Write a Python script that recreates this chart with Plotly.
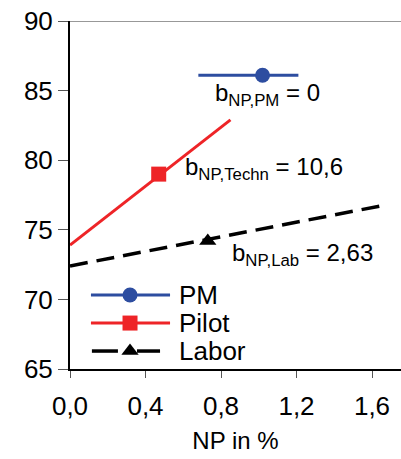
import plotly.graph_objects as go

# ---- data ----
series_names = ["PM", "Pilot", "Labor"]
pm_line_x = [0.68, 1.21]
pm_line_y = [86.1, 86.1]
pm_point_x = [1.02]
pm_point_y = [86.1]

pilot_line_x = [0.0, 0.85]
pilot_line_y = [73.9, 82.9]
pilot_point_x = [0.47]
pilot_point_y = [79.0]

labor_line_x = [0.0, 1.64]
labor_line_y = [72.4, 76.7]
labor_point_x = [0.73]
labor_point_y = [74.2]

x_tickvals = [0.0, 0.4, 0.8, 1.2, 1.6]
x_ticktext = ["0,0", "0,4", "0,8", "1,2", "1,6"]
y_tickvals = [65, 70, 75, 80, 85, 90]

slope_labels = [
    "b<sub>NP,PM</sub> = 0",
    "b<sub>NP,Techn</sub> = 10,6",
    "b<sub>NP,Lab</sub> = 2,63",
]

BLUE = "#2D4DA0"
RED = "#EE2427"
BLACK = "#000000"
FONT = "Liberation Sans, Arial, sans-serif"

fig = go.Figure()

styles = [
    (BLUE, "solid", 3, "circle", 15),
    (RED, "solid", 3, "square", 15),
    (BLACK, "18px,9px", 3.5, "triangle-up", 15),
]
lines = [(pm_line_x, pm_line_y), (pilot_line_x, pilot_line_y), (labor_line_x, labor_line_y)]
points = [(pm_point_x, pm_point_y), (pilot_point_x, pilot_point_y), (labor_point_x, labor_point_y)]

for name, (lx, ly), (px, py), (col, dash, w, sym, ms) in zip(series_names, lines, points, styles):
    fig.add_trace(go.Scatter(x=lx, y=ly, mode="lines", name=name,
                             line=dict(color=col, width=w, dash=dash),
                             showlegend=False, hoverinfo="skip"))
    fig.add_trace(go.Scatter(x=px, y=py, mode="markers", name=name,
                             marker=dict(color=col, symbol=sym, size=ms, line=dict(width=0)),
                             showlegend=False))

# ---- legend box drawn inside the plot (positions in axis units) ----
leg_rows = [70.32, 68.30, 66.29]
leg_x0, leg_xm, leg_x1, leg_tx = 0.111, 0.318, 0.530, 0.567
for i, (name, (col, dash, w, sym, ms)) in enumerate(zip(series_names, styles)):
    yy = leg_rows[i]
    if i == 2:
        seg_x = [leg_x0 + 0.005, leg_xm - 0.064, None, leg_xm + 0.037, leg_x1 - 0.053]
        seg_y = [yy, yy, None, yy, yy]
    else:
        seg_x = [leg_x0, leg_x1]
        seg_y = [yy, yy]
    fig.add_trace(go.Scatter(x=seg_x, y=seg_y, mode="lines", line=dict(color=col, width=w),
                             showlegend=False, hoverinfo="skip", connectgaps=False))
    fig.add_trace(go.Scatter(x=[leg_xm], y=[yy], mode="markers",
                             marker=dict(color=col, symbol=sym, size=ms, line=dict(width=0)),
                             showlegend=False, hoverinfo="skip"))
    fig.add_annotation(x=leg_tx, y=yy, text=name, showarrow=False, xanchor="left", yanchor="middle",
                       font=dict(size=26, color=BLACK, family=FONT))

ann_pos = [(0.758, 84.7), (0.599, 79.4), (0.848, 73.2)]
for txt, (ax, ay) in zip(slope_labels, ann_pos):
    fig.add_annotation(x=ax, y=ay, text=txt, showarrow=False, xanchor="left", yanchor="middle",
                       font=dict(size=24, color=BLACK, family=FONT))

# top border line at 90
fig.add_shape(type="line", xref="paper", yref="y", x0=0, x1=1, y0=90, y1=90,
              line=dict(color="#333333", width=1))

fig.update_layout(
    width=401, height=459,
    margin=dict(l=70, r=0, t=21, b=90),
    paper_bgcolor="white", plot_bgcolor="white",
    font=dict(family=FONT, size=26, color=BLACK),
    showlegend=False,
    xaxis=dict(range=[0, 1.7536], tickvals=x_tickvals, ticktext=x_ticktext,
               showgrid=False, zeroline=False, showline=True, linecolor=BLACK, linewidth=2,
               ticks="outside", ticklen=7, tickcolor="#555555", tickwidth=1,
               ticklabelstandoff=6,
               tickfont=dict(size=26, color=BLACK), title=dict(text="NP in %", font=dict(size=24, color=BLACK), standoff=12)),
    yaxis=dict(range=[65, 90], tickvals=y_tickvals,
               showgrid=False, zeroline=False, showline=True, linecolor=BLACK, linewidth=2,
               ticks="outside", ticklen=10, tickcolor="#555555", tickwidth=1,
               tickfont=dict(size=26, color=BLACK)),
)

fig.write_html("out.html")
